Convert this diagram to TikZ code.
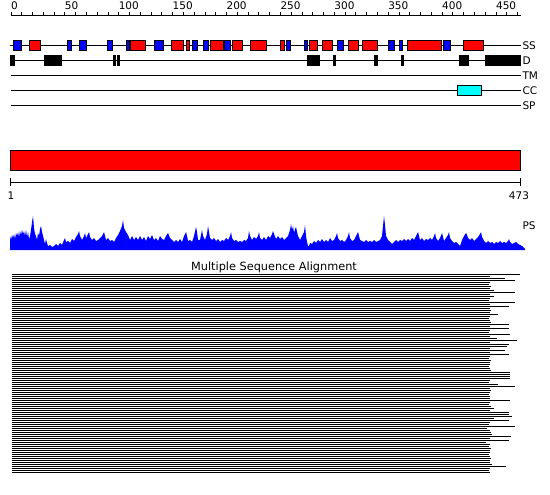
\documentclass[tikz,border=0pt]{standalone}
\usepackage{fontspec}
\setmainfont{DejaVu Sans}
\definecolor{helixred}{RGB}{255,0,0}
\definecolor{strandblue}{RGB}{0,0,255}
\definecolor{coilcyan}{RGB}{0,255,255}

\begin{document}
\begin{tikzpicture}[x=1pt, y=-1pt, line width=1pt, line cap=butt, line join=miter,
    helix/.style={draw=black, fill=helixred},
    strand/.style={draw=black, fill=strandblue},
    disord/.style={draw=black, fill=black},
    coiled/.style={draw=black, fill=coilcyan},
    tracklbl/.style={anchor=west, inner sep=0.5pt, font=\fontsize{10.5}{12}\selectfont},
    ticklbl/.style={anchor=base west, inner sep=0pt, font=\fontsize{10.5}{12}\selectfont}]

  %% ════ 上方刻度尺（0 … 450，每 10 个残基一格）════
  \draw (11,15.5) -- (521,15.5);
  \foreach \r in {0,10,...,470}
    \draw (11+1.078*\r,12) -- (11+1.078*\r,15.5);
  \foreach \r in {0,50,...,450}
    \node[ticklbl] (tick\r) at (10.5+1.078*\r,10) {\r};

  %% ════ 轨道线 SS / D / TM / CC / SP ════
  \draw (10,45.5) -- (521,45.5);
  \draw (10,60.5) -- (521,60.5);
  \draw (11,75.5) -- (521,75.5);
  \draw (11,90.5) -- (521,90.5);
  \draw (11,105.5) -- (521,105.5);
  \node[tracklbl] (lblSS) at (521.5,45.5) {SS};
  \node[tracklbl] (lblD)  at (521.5,60.5) {D};
  \node[tracklbl] (lblTM) at (521.5,75.5) {TM};
  \node[tracklbl] (lblCC) at (521.5,90.5) {CC};
  \node[tracklbl] (lblSP) at (521.5,105.5) {SP};

  % 二级结构：红 = helix，蓝 = strand
  \foreach \a/\b in {29/40,130/145,171/183,186/189,210/223,232/242,250/266,
                     280/284,309/317,322/332,348/358,362/377,407/441,463/483}
    \draw[helix] (\a,40.5) rectangle (\b,50.5);
  \foreach \a/\b in {13/21,67/71,79/86,107/112,126/129,154/163,192/197,203/208,
                     224/230,286/290,304/307,337/343,388/394,399/402,443/450}
    \draw[strand] (\a,40.5) rectangle (\b,50.5);

  % 无序区
  \foreach \a/\b in {10/14,44/61,113/115,117/119,307/319,333/335,374/377,
                     401/403,459/468,485/520}
    \draw[disord] (\a,55.5) rectangle (\b,65.5);

  % coiled coil
  \draw[coiled] (457,85.5) rectangle (481,95.5);

  %% ════ 全长条 + 1 … 473 ════
  \draw[fill=helixred] (10.5,150.5) rectangle (520.5,170.5);
  \draw (10.5,182.5) -- (520.5,182.5);
  \draw (10.5,178) -- (10.5,186);
  \draw (520.5,178) -- (520.5,186);
  \node[anchor=base, inner sep=0pt, font=\fontsize{10.5}{12}\selectfont] (lblStart) at (11,200) {1};
  \node[anchor=base, inner sep=0pt, font=\fontsize{10.5}{12}\selectfont] (lblEnd) at (519,200) {473};

  %% ════ PS 曲线（填充，基线 y=250）════
  \fill[strandblue] (10,250)
    \foreach \x/\y in {10/236,11/240,12/235,13/238,14/234,15/239,16/233,17/236,18/232,19/237,
      20/231,21/235,22/230,23/234,24/231,25/236,26/230,27/237,28/232,29/239,30/236,31/230,
      32/222,33/216,34/228,35/234,36/236,37/240,38/233,39/236,40/229,41/226,42/232,43/236,
      44/240,45/244,46/239,47/243,48/246,50/245,52/247,54/246,56/244,58/246,60/243,62/245,
      64/240,65/238,66/242,68/241,70/243,72/239,74/241,76/237,78/234,79/231,80/236,82/240,
      84/236,85/233,86/238,88/234,89/232,90/237,92/240,94/238,96/241,98/240,100/238,102/236,
      104/232,105/236,106/240,108/238,110/241,112/240,114/242,116/238,118/235,120/231,
      122/226,123/220,124/228,126/232,128/235,130/240,132/236,134/240,136/237,138/240,
      140/236,142/240,144/237,146/241,148/236,150/239,152/235,154/240,156/238,158/241,
      160/236,162/239,164/240,166/236,168/233,170/238,172/240,174/242,176/240,178/242,
      180/239,182/242,184/236,186/232,187/236,188/241,190/240,192/242,194/236,196/227,
      197/232,198/240,200/240,202/230,203/236,205/240,207/234,208/226,209/232,210/238,
      212/240,214/238,216/241,218/239,220/242,222/240,224/241,226/238,228/240,230/236,
      231/232,232/238,234/241,236/240,238/242,240/241,242/242,244/240,246/241,248/238,
      249/231,250/236,252/240,254/237,256/239,258/236,259/232,260/238,262/240,264/237,
      266/240,268/236,270/238,272/234,273/231,274/234,276/239,278/236,280/239,282/237,
      284/240,286/238,288/236,290/230,291/224,292/230,293/226,294/233,295/229,296/227,
      297/232,298/236,300/240,302/236,304/232,305/225,306/236,307/242,308/246,309/246,
      310/243,312/244,314/241,316/243,318/240,320/242,322/239,324/242,326/240,328/242,
      330/238,332/241,334/240,336/236,337/233,338/238,340/241,342/240,344/242,346/240,
      348/236,349/232,350/238,352/241,354/240,356/236,358/232,359/236,360/240,362/241,
      364/242,366/240,368/242,370/241,372/242,374/240,376/242,378/241,380/240,382/236,
      383/226,384/216,385/225,386/236,388/240,390/242,392/244,394/242,396/240,398/242,
      400/240,402/241,404/239,406/241,408/239,410/241,412/238,414/240,416/236,418/232,
      419/236,420/240,422/238,424/241,426/239,428/240,430/238,432/240,434/236,435/233,
      436/238,438/241,440/238,442/233,443/237,444/241,446/238,448/235,449/232,450/238,
      452/241,454/243,456/242,458/244,460/246,462/240,464/236,466/233,467/235,468/238,
      470/240,472/238,474/241,476/239,478/237,480/234,481/232,482/237,484/241,486/243,
      488/241,490/243,492/242,494/244,496/242,498/243,500/241,502/243,504/242,506/243,
      508/241,509/239,510/242,512/244,514/243,516/242,518/244,520/245,522/246,524/248,
      525/249}
    { -- (\x,\y) } -- (525,250) -- cycle;
  \node[tracklbl] (lblPS) at (521.5,226) {PS};

  %% ════ 多序列比对：100 行，行距 2px ════
  \node[anchor=base, inner sep=0pt, font=\fontsize{11.3}{13}\selectfont] (msaTitle) at (274,270) {Multiple Sequence Alignment};
  \foreach \e [count=\i from 0] in {520,490,505,515,490,489,491,490,494,515,
      490,494,490,489,515,490,509,490,491,490, 498,490,489,490,491,509,490,509,490,489,
      510,490,497,517,490,509,507,490,505,490, 509,490,489,491,490,490,489,490,491,510,
      510,510,510,490,489,498,515,490,491,490, 489,490,490,510,490,489,491,494,490,509,
      509,512,494,509,490,489,515,487,490,491, 492,511,490,509,486,490,489,491,490,490,
      489,490,491,490,490,492,506,490,489,490}
    \draw (12,274.5+2*\i) -- (\e,274.5+2*\i);

  % 钉死画布
  \pgfresetboundingbox
  \path[use as bounding box] (0,0) rectangle (550,495);
\end{tikzpicture}
\end{document}
